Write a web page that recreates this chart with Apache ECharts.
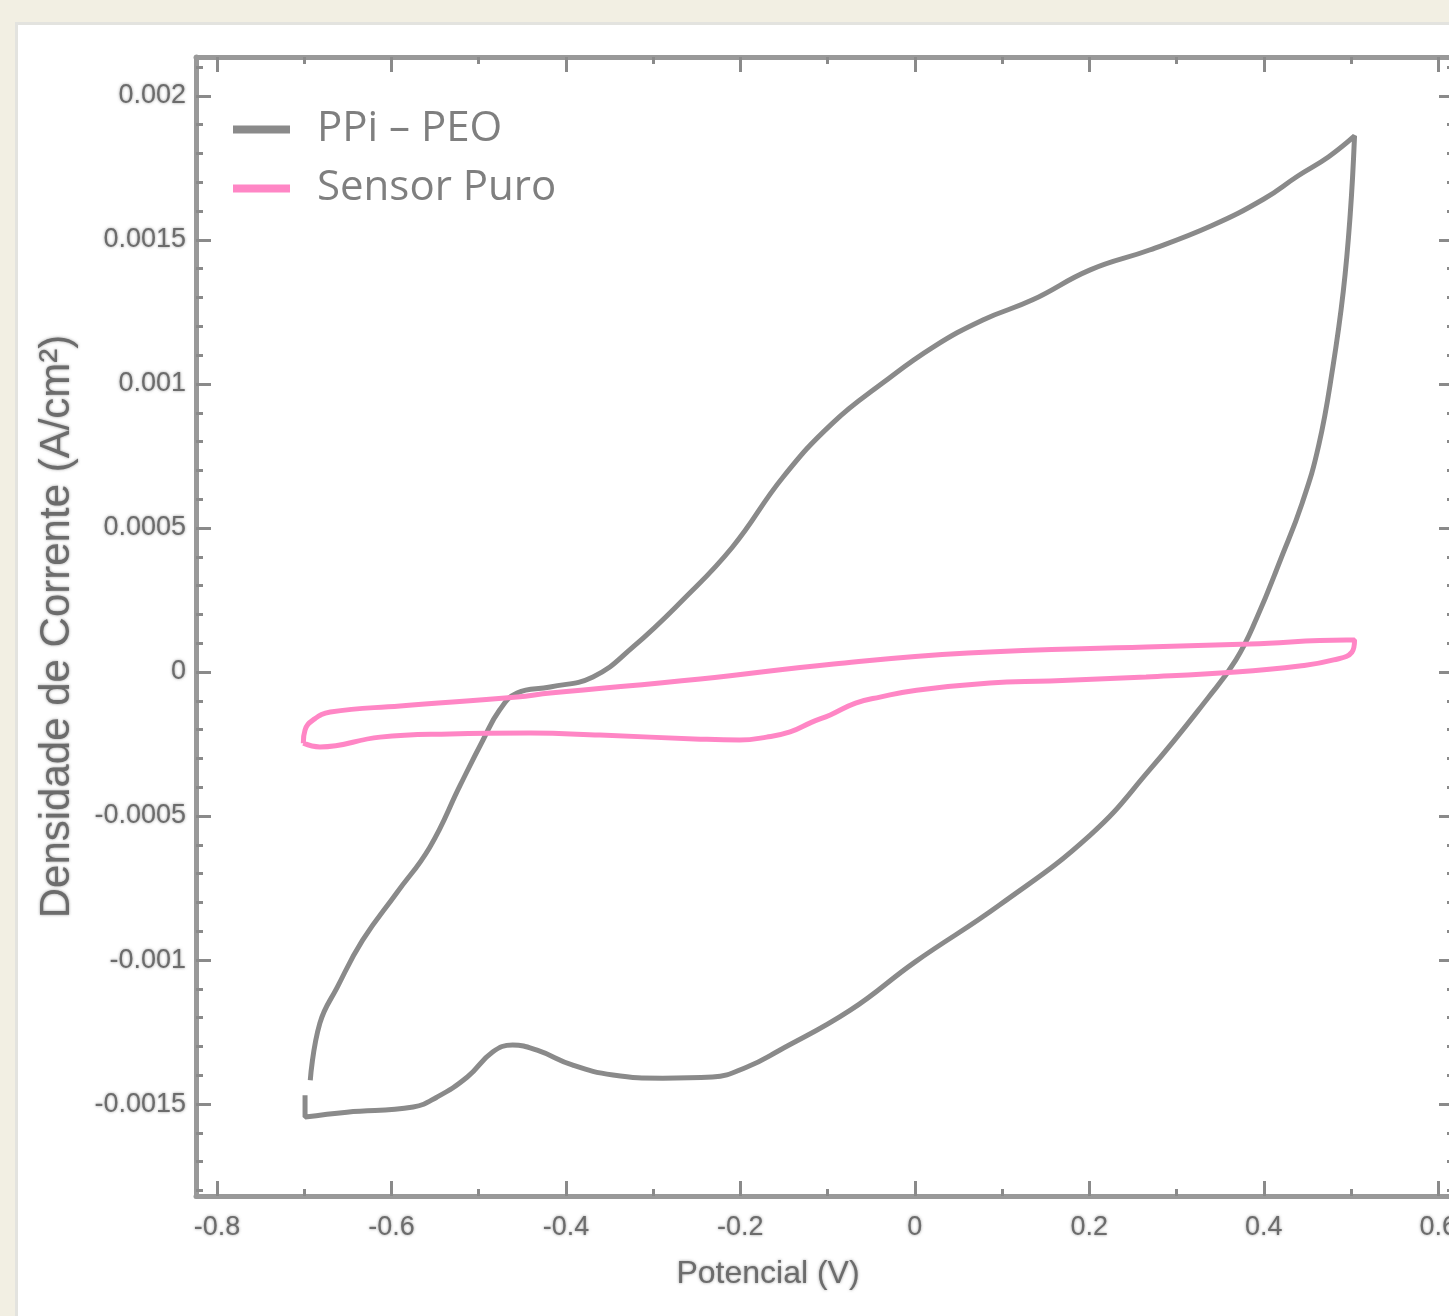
<!DOCTYPE html>
<html>
<head>
<meta charset="utf-8">
<script src="https://cdn.jsdelivr.net/npm/echarts@6/dist/echarts.min.js"></script>
<style>
  html, body { margin: 0; padding: 0; background: #f2efe3; }
  #panel { position: absolute; left: 15px; top: 22px; right: 0; bottom: 0; background: #fff;
           border-left: 3px solid #e3e3df; border-top: 3px solid #e3e3df; }
  #chartDom { position: absolute; left: 0; top: 0; width: 1449px; height: 1316px; }
</style>
</head>
<body>
<div id="panel"></div>
<div id="chartDom"></div>
<script>
// ticks
var xTicks = [-0.8, -0.6, -0.4, -0.2, 0, 0.2, 0.4, 0.6];
var xTickLabels = ['-0.8', '-0.6', '-0.4', '-0.2', '0', '0.2', '0.4', '0.6'];
var xMinorTicks = [-0.7, -0.5, -0.3, -0.1, 0.1, 0.3, 0.5];
var yTicks = [-0.0015, -0.001, -0.0005, 0, 0.0005, 0.001, 0.0015, 0.002];
var yTickLabels = ['-0.0015', '-0.001', '-0.0005', '0', '0.0005', '0.001', '0.0015', '0.002'];

// PPi - PEO : lower branch (left -> right) then upper branch (right -> left)
var ppiPotential = [-0.699, -0.699, -0.651, -0.575, -0.548, -0.513, -0.484, -0.461, -0.433, -0.392,
  -0.346, -0.289, -0.232, -0.193, -0.155, -0.074, 0.000, 0.097, 0.201, 0.269,
  0.336, 0.368, 0.392, 0.419, 0.444, 0.463, 0.479, 0.491, 0.499, 0.504,
  0.474, 0.439, 0.400, 0.340, 0.269, 0.201, 0.135, 0.078, 0.021, -0.037,
  -0.094, -0.151, -0.209, -0.266, -0.323, -0.369, -0.418, -0.456, -0.476, -0.495,
  -0.521, -0.556, -0.594, -0.633, -0.662, -0.682, -0.693];
var ppiCurrent = [-0.001469, -0.001545, -0.001528, -0.001510, -0.001476, -0.001406, -0.001319, -0.001295, -0.001313, -0.001365,
  -0.001399, -0.001410, -0.001406, -0.001372, -0.001313, -0.001174, -0.001007, -0.000809, -0.000566, -0.000340,
  -0.000090, 0.000042, 0.000188, 0.000389, 0.000587, 0.000788, 0.001056, 0.001319, 0.001587, 0.001861,
  0.001788, 0.001722, 0.001642, 0.001549, 0.001465, 0.001396, 0.001292, 0.001222, 0.001128, 0.001003,
  0.000865, 0.000677, 0.000434, 0.000250, 0.000087, -0.000017, -0.000052, -0.000073, -0.000132, -0.000236,
  -0.000392, -0.000608, -0.000767, -0.000931, -0.001094, -0.001219, -0.001417];

// Sensor Puro : upper branch (left -> right) then lower branch (right -> left)
var sensorPotential = [-0.701, -0.699, -0.690, -0.670, -0.590, -0.456, -0.418, -0.246, -0.093, 0.061,
  0.265, 0.384, 0.495, 0.504, 0.501, 0.480, 0.441, 0.368, 0.265, 0.155,
  0.086, 0.002, -0.040, -0.068, -0.097, -0.118, -0.143, -0.170, -0.201, -0.246,
  -0.361, -0.441, -0.533, -0.613, -0.682, -0.701];
var sensorCurrent = [-0.000247, -0.000201, -0.000167, -0.000139, -0.000118, -0.000087, -0.000073, -0.000024, 0.000028, 0.000066,
  0.000087, 0.000097, 0.000111, 0.000111, 0.000069, 0.000042, 0.000021, 0.000000, -0.000017, -0.000031,
  -0.000038, -0.000063, -0.000087, -0.000108, -0.000149, -0.000174, -0.000208, -0.000226, -0.000236, -0.000233,
  -0.000219, -0.000212, -0.000215, -0.000226, -0.000260, -0.000247];

function pairs(xs, ys) {
  return xs.map(function (x, i) { return [x, ys[i]]; });
}

var yMinorTicks = [];
for (var k = -18; k <= 21; k++) {
  if (k % 5 !== 0) yMinorTicks.push(k / 10000);
}

function nearestLabel(v, ticks, labels) {
  var best = 0;
  for (var i = 1; i < ticks.length; i++) {
    if (Math.abs(ticks[i] - v) < Math.abs(ticks[best] - v)) best = i;
  }
  return labels[best];
}

var X_MIN = -0.824, X_MAX = 0.618;
var Y_MIN = -0.001819, Y_MAX = 0.002135;
var frameLine = { show: true, onZero: false, lineStyle: { color: '#999999', width: 5 } };
var tickLine = { color: '#8a8a8a', width: 3 };
var labelFont = {
  fontFamily: 'Liberation Sans', fontSize: 27, color: '#6c6c6c',
  textShadowColor: 'rgba(110,110,110,0.7)', textShadowBlur: 3
};

function xAxisOf(position, ticks, len, main) {
  return {
    type: 'value', position: position, min: X_MIN, max: X_MAX,
    axisLine: main ? frameLine : { show: false, onZero: false },
    splitLine: { show: false },
    axisTick: { show: true, inside: true, length: len, customValues: ticks, lineStyle: tickLine },
    axisLabel: (main && position === 'bottom') ? Object.assign({
      show: true, margin: 18, customValues: xTicks,
      formatter: function (v) { return nearestLabel(v, xTicks, xTickLabels); }
    }, labelFont) : { show: false }
  };
}

function yAxisOf(position, ticks, len, main) {
  return {
    type: 'value', position: position, min: Y_MIN, max: Y_MAX,
    axisLine: main ? frameLine : { show: false, onZero: false },
    splitLine: { show: false },
    axisTick: { show: true, inside: true, length: len, customValues: ticks, lineStyle: tickLine },
    axisLabel: (main && position === 'left') ? Object.assign({
      show: true, margin: 10, customValues: yTicks,
      formatter: function (v) { return nearestLabel(v, yTicks, yTickLabels); }
    }, labelFont) : { show: false }
  };
}

var chartDom = echarts.init(document.getElementById('chartDom'));

var xAxes = [
  xAxisOf('bottom', xTicks, 15, true),
  xAxisOf('bottom', xMinorTicks, 7, false),
  xAxisOf('top', xTicks, 15, true),
  xAxisOf('top', xMinorTicks, 7, false)
];
xAxes[0].name = 'Potencial (V)';
xAxes[0].nameLocation = 'middle';
xAxes[0].nameGap = 62;
xAxes[0].nameTextStyle = {
  fontFamily: 'Liberation Sans', fontSize: 32, color: '#6c6c6c', padding: [0, 114, 0, 0],
  textShadowColor: 'rgba(110,110,110,0.7)', textShadowBlur: 3
};

var yAxes = [
  yAxisOf('left', yTicks, 15, true),
  yAxisOf('left', yMinorTicks, 7, false),
  yAxisOf('right', yTicks, 15, true),
  yAxisOf('right', yMinorTicks, 7, false)
];
yAxes[0].name = 'Densidade de Corrente (A/cm²)';
yAxes[0].nameLocation = 'middle';
yAxes[0].nameGap = 118;
yAxes[0].nameTextStyle = {
  fontFamily: 'Liberation Sans', fontSize: 42, color: '#6c6c6c',
  textShadowColor: 'rgba(110,110,110,0.7)', textShadowBlur: 3
};

chartDom.setOption({
  animation: false,
  backgroundColor: 'transparent',
  grid: { left: 196, top: 57, width: 1258, height: 1139, containLabel: false, outerBoundsMode: 'none' },
  legend: {
    orient: 'vertical', left: 228, top: 100,
    icon: 'rect', itemWidth: 57, itemHeight: 8, itemGap: 10,
    textStyle: { fontFamily: 'Open Sans', fontSize: 42, lineHeight: 49, color: '#7f7f7f', padding: [0, 0, 0, 22] },
    data: ['PPi – PEO', 'Sensor Puro']
  },
  xAxis: xAxes,
  yAxis: yAxes,
  series: [
    {
      name: 'PPi – PEO', type: 'line', xAxisIndex: 0, yAxisIndex: 0,
      data: pairs(ppiPotential, ppiCurrent), showSymbol: false, symbol: 'none', smooth: 0.45,
      lineStyle: { color: '#8a8a8a', width: 5 }, itemStyle: { color: '#8a8a8a' }
    },
    {
      name: 'Sensor Puro', type: 'line', xAxisIndex: 0, yAxisIndex: 0,
      data: pairs(sensorPotential, sensorCurrent), showSymbol: false, symbol: 'none', smooth: 0.45,
      lineStyle: { color: '#ff86c5', width: 5 }, itemStyle: { color: '#ff86c5' }
    }
  ]
});
</script>
</body>
</html>
